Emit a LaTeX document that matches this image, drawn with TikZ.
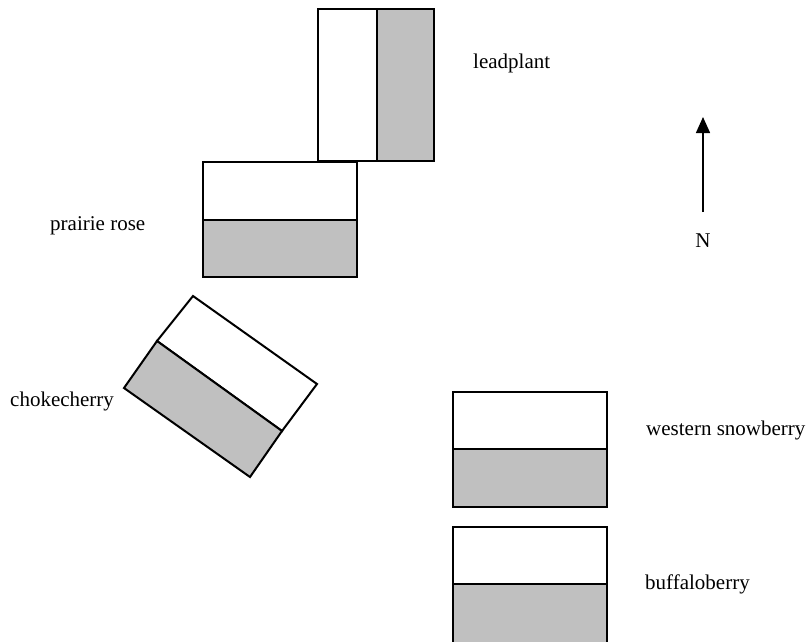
\documentclass[tikz,border=0pt]{standalone}
\usepackage{fontspec}
\setmainfont{Liberation Serif}
\usetikzlibrary{arrows.meta}
\definecolor{shade}{RGB}{192,192,192}
\tikzset{
  outline/.style={draw=black, line width=2pt, line join=miter},
  light/.style={outline, fill=white},
  dark/.style={outline, fill=shade},
  lbl/.style={anchor=base west, inner sep=0pt, font=\fontsize{21}{25}\selectfont},
}
\begin{document}
\begin{tikzpicture}[x=1pt, y=-1pt]
\clip (0,0) rectangle (806,641);
\fill[white] (0,0) rectangle (806,641);
% leadplant
\draw[light] (318,9) rectangle (377,161);
\draw[dark] (377,9) rectangle (434,161);
% prairie rose
\draw[light] (203,162) rectangle (357,220);
\draw[dark] (203,220) rectangle (357,277);
% chokecherry
\draw[light] (193,296) -- (317,384) -- (282,431) -- (157,341) -- cycle;
\draw[dark] (157,341) -- (282,431) -- (250,477) -- (124,388) -- cycle;
% western snowberry
\draw[light] (453,392) rectangle (607,449);
\draw[dark] (453,449) rectangle (607,507);
% buffaloberry
\draw[light] (453,527) rectangle (607,584);
\draw[dark] (453,584) rectangle (607,660);
% labels
\node[lbl] (leadplant) at (473,68) {leadplant};
\node[lbl] (prairie) at (50,230) {prairie rose};
\node[lbl] (choke) at (10,406) {chokecherry};
\node[lbl] (western) at (646,435) {western snowberry};
\node[lbl] (buffalo) at (645,589) {buffaloberry};
% north arrow
\coordinate (ntail) at (703,212);
\coordinate (nhead) at (703,117);
\draw[line width=1.5pt, -{Triangle[length=16pt,width=14pt]}] (ntail) -- (nhead);
\node[font=\fontsize{21}{25}\selectfont, inner sep=0pt] (north) at (703,241) {N};
\end{tikzpicture}
\end{document}
